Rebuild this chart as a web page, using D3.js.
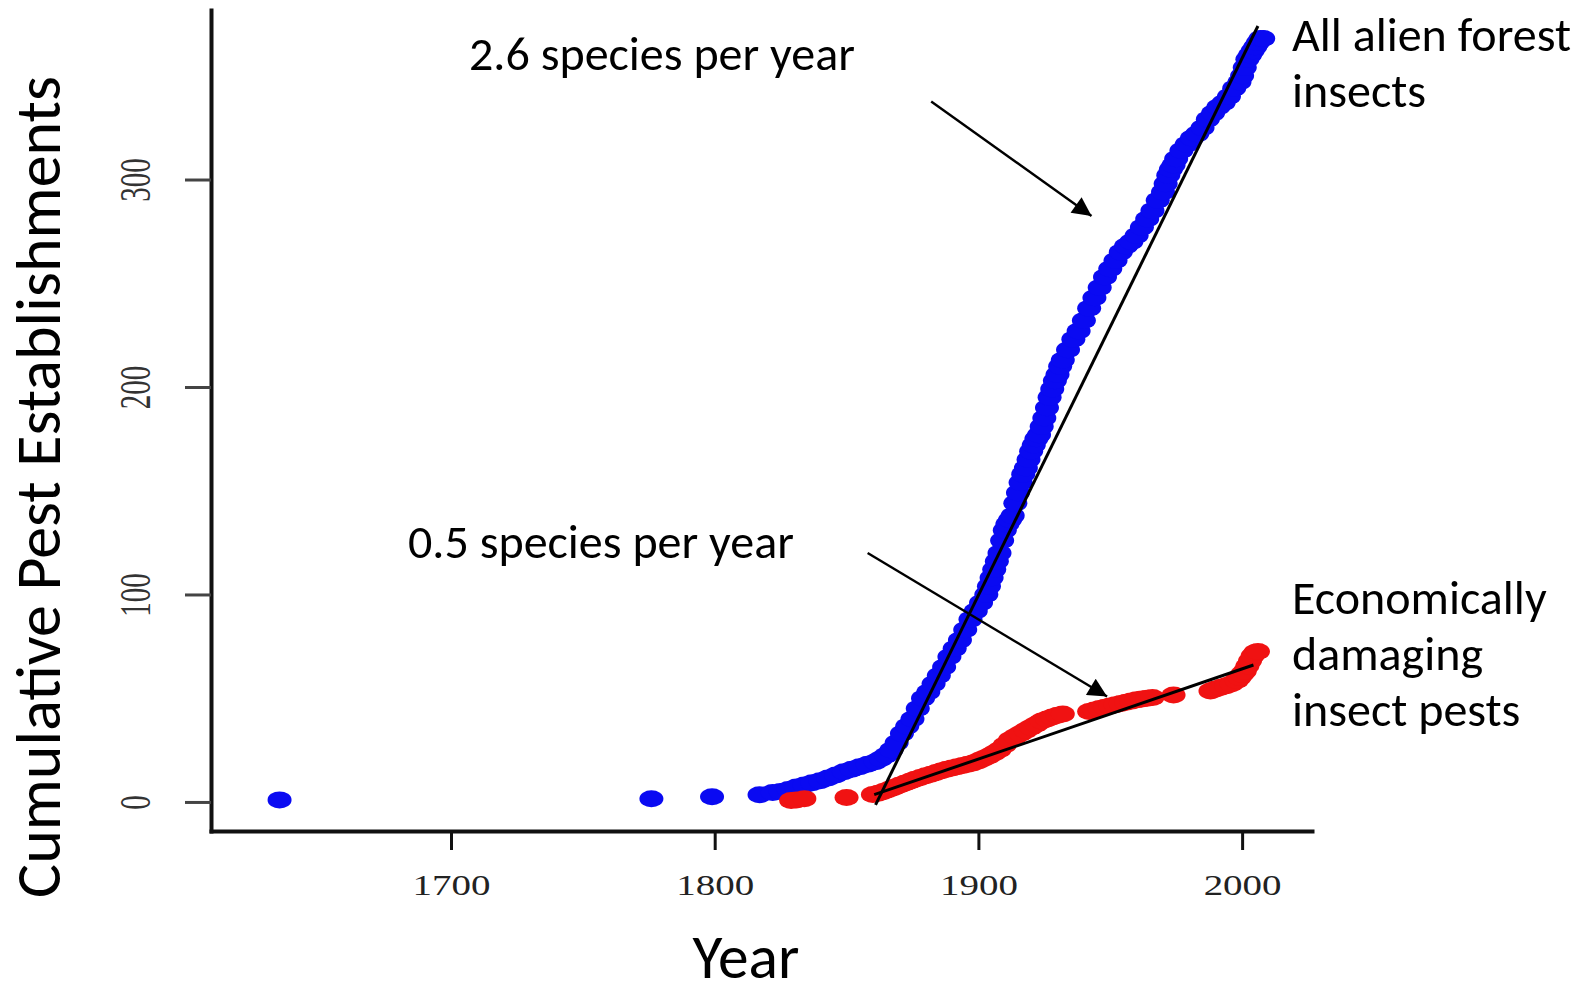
<!DOCTYPE html>
<html>
<head>
<meta charset="utf-8">
<script src="https://cdn.jsdelivr.net/npm/d3@7"></script>
<style>
  html, body { margin: 0; padding: 0; background: #fff; }
  svg { display: block; }
</style>
</head>
<body>
<svg id="chart"></svg>
<script>
// cumulative establishments, [year, count]
const allInsects = [
  [1635, 1], [1776, 1.5], [1799, 2.5], [1817, 3.5], [1822, 4.6], [1825, 5],
  [1828, 6], [1831, 7.2], [1834, 8.2], [1837, 9.2], [1840, 10.2], [1843, 11.5], [1846, 13],
  [1849, 14.6], [1852, 15.8], [1855, 17], [1858, 18.2], [1861, 19.4], [1863, 20.8], [1865, 22.5],
  [1867, 25], [1869, 28.5], [1871, 33], [1873, 36.5], [1875, 40], [1877, 45], [1879, 50],
  [1881, 53], [1883, 57], [1885, 61], [1887, 65], [1889, 70], [1891, 74], [1893, 78],
  [1895, 83], [1897, 88], [1899, 92], [1901, 96], [1903, 100], [1904, 104], [1905, 108],
  [1906, 112], [1907, 116], [1908, 120], [1909, 126], [1910, 131], [1911, 134], [1912, 136],
  [1913, 138], [1914, 144], [1915, 149], [1916, 154], [1917, 158], [1918, 161], [1919, 165],
  [1920, 169], [1921, 172], [1922, 175], [1923, 177], [1924, 181], [1925, 185], [1926, 190],
  [1927, 195], [1928, 199], [1929, 203], [1930, 206], [1931, 210], [1932, 213], [1934, 218],
  [1936, 223], [1938, 227], [1940, 232], [1942, 238], [1944, 243], [1946, 248], [1948, 253],
  [1950, 257], [1952, 261], [1954, 265], [1956, 268], [1958, 270], [1960, 273], [1962, 277],
  [1964, 281], [1966, 285], [1968, 290], [1970, 294], [1971, 298], [1972, 302], [1973, 305],
  [1974, 307], [1975, 310], [1977, 314], [1979, 317], [1981, 320], [1983, 322], [1985, 325],
  [1987, 329], [1989, 332], [1991, 335], [1993, 337], [1995, 340], [1997, 344], [1999, 347],
  [2000, 350], [2001, 354], [2002, 358], [2003, 360], [2004, 362], [2005, 364], [2006, 366],
  [2007, 368], [2008, 368]
];

const damagingPests = [
  [1829, 0.7], [1831, 1], [1834, 1.6], [1850, 2.2], [1860, 3.6], [1862, 4.2], [1864, 5],
  [1866, 6], [1868, 7], [1870, 8], [1872, 9], [1874, 10], [1876, 11], [1878, 11.8],
  [1880, 12.6], [1882, 13.4], [1884, 14.2], [1886, 15], [1888, 15.8], [1890, 16.4], [1892, 17],
  [1894, 17.6], [1896, 18.2], [1898, 18.8], [1900, 19.8], [1902, 21], [1904, 22.2], [1906, 23.6],
  [1908, 25.2], [1910, 27.5], [1912, 30], [1914, 31.5], [1916, 33], [1918, 34.5], [1920, 36],
  [1922, 37.5], [1924, 39], [1926, 40], [1928, 41], [1930, 41.8], [1932, 42.4], [1942, 43.6],
  [1944, 44.3], [1946, 45], [1948, 45.6], [1950, 46.2], [1952, 46.8], [1954, 47.4], [1956, 48],
  [1958, 48.6], [1960, 49.2], [1962, 49.6], [1964, 50], [1966, 50.3], [1974, 51.6], [1988, 53.5],
  [1990, 54.5], [1992, 55.3], [1994, 56], [1996, 57], [1998, 58.5], [1999, 60], [2000, 61.5],
  [2001, 63], [2002, 65.5], [2003, 68], [2004, 70.5], [2005, 72], [2006, 72.5]
];

// fitted trend lines, [year, count] at each end
const fitAll = [[1861, -1.4], [2006, 374]];
const fitDamaging = [[1860.5, 3.5], [2004.3, 66]];

const xTicks = [1700, 1800, 1900, 2000];
const yTicks = [0, 100, 200, 300];

const rateLabels = ["2.6 species per year", "0.5 species per year"];
const seriesLabels = [["All alien forest", "insects"], ["Economically", "damaging", "insect pests"]];
const xTitle = "Year";
const yTitle = "Cumulative Pest Establishments";

const W = 1591, H = 993;
const sans = "Calibri, Carlito, 'Open Sans', sans-serif";
const serif = "'Liberation Serif', 'Times New Roman', serif";

const svg = d3.select("#chart")
  .attr("width", W)
  .attr("height", H)
  .attr("viewBox", [0, 0, W, H]);

const x = d3.scaleLinear().domain([1609, 2026.5]).range([211, 1312]);
const y = d3.scaleLinear().domain([-14, 381.7]).range([831, 10]);

// x axis
const gx = svg.append("g")
  .attr("transform", `translate(0,${y.range()[0]})`)
  .call(d3.axisBottom(x).tickValues(xTicks).tickSize(19).tickSizeOuter(0).tickFormat(d3.format("d")));
gx.select(".domain").attr("stroke", "#111").attr("stroke-width", 4).attr("stroke-linecap", "square");
gx.selectAll(".tick line").attr("stroke", "#111").attr("stroke-width", 3);
gx.selectAll(".tick text")
  .attr("font-family", serif)
  .attr("font-size", 30)
  .attr("fill", "#222")
  .attr("y", 64)
  .attr("dy", 0)
  .attr("transform", "scale(1.3,1)");

// y axis
const gy = svg.append("g")
  .attr("transform", `translate(${x.range()[0]},0)`)
  .call(d3.axisLeft(y).tickValues(yTicks).tickSize(26).tickSizeOuter(0));
gy.select(".domain").attr("stroke", "#111").attr("stroke-width", 4).attr("stroke-linecap", "square");
gy.selectAll(".tick line").attr("stroke", "#444").attr("stroke-width", 3);
gy.selectAll(".tick text")
  .attr("font-family", serif)
  .attr("font-size", 29)
  .attr("fill", "#333")
  .attr("x", 0)
  .attr("dy", 0)
  .attr("text-anchor", "middle")
  .attr("transform", "translate(-61,0) rotate(-90) scale(1,1.5)");

// points
svg.append("g")
  .selectAll("ellipse")
  .data(allInsects)
  .join("ellipse")
  .attr("cx", d => x(d[0]))
  .attr("cy", d => y(d[1]))
  .attr("rx", 12)
  .attr("ry", 8.5)
  .attr("fill", "#0a0af2");

svg.append("g")
  .selectAll("ellipse")
  .data(damagingPests)
  .join("ellipse")
  .attr("cx", d => x(d[0]))
  .attr("cy", d => y(d[1]))
  .attr("rx", 12)
  .attr("ry", 8.5)
  .attr("fill", "#f01212");

// trend lines
const line = d3.line().x(d => x(d[0])).y(d => y(d[1]));
[fitAll, fitDamaging].forEach(f => {
  svg.append("path")
    .datum(f)
    .attr("fill", "none")
    .attr("stroke", "#000")
    .attr("stroke-width", 3)
    .attr("d", line);
});

// arrows pointing at the trend lines
svg.append("defs").append("marker")
  .attr("id", "head")
  .attr("viewBox", "0 0 10 10")
  .attr("refX", 10)
  .attr("refY", 5)
  .attr("markerWidth", 25)
  .attr("markerHeight", 19)
  .attr("markerUnits", "userSpaceOnUse")
  .attr("orient", "auto")
  .append("path")
  .attr("d", "M0,0L10,5L0,10z")
  .attr("fill", "#000");

const arrows = [
  {from: [1882.1, 337.6], to: [1942.9, 282.4]},
  {from: [1858, 120], to: [1948.8, 50.8]}
];
svg.append("g")
  .selectAll("line")
  .data(arrows)
  .join("line")
  .attr("x1", d => x(d.from[0]))
  .attr("y1", d => y(d.from[1]))
  .attr("x2", d => x(d.to[0]))
  .attr("y2", d => y(d.to[1]))
  .attr("stroke", "#000")
  .attr("stroke-width", 2.4)
  .attr("marker-end", "url(#head)");

// text sizes fitted to the widths measured on the reference
function fitSize(str, target) {
  const t = svg.append("text").attr("font-family", sans).attr("font-size", 100).text(str);
  const w = t.node().getComputedTextLength();
  t.remove();
  return 100 * target / w;
}
const noteSize = fitSize(rateLabels[0], 386);
const titleSize = fitSize(yTitle, 822);

const notePos = [[469, 70], [408, 558]];
rateLabels.forEach((s, i) => {
  svg.append("text")
    .attr("x", notePos[i][0])
    .attr("y", notePos[i][1])
    .attr("font-family", sans)
    .attr("font-size", noteSize)
    .attr("fill", "#000")
    .text(s);
});

const seriesPos = [[1292, 51], [1292, 614]];
seriesLabels.forEach((lines, i) => {
  const t = svg.append("text")
    .attr("font-family", sans)
    .attr("font-size", noteSize)
    .attr("fill", "#000");
  lines.forEach((s, j) => {
    t.append("tspan")
      .attr("x", seriesPos[i][0])
      .attr("y", seriesPos[i][1] + j * 56)
      .text(s);
  });
});

svg.append("text")
  .attr("x", 746)
  .attr("y", 978)
  .attr("text-anchor", "middle")
  .attr("font-family", sans)
  .attr("font-size", titleSize * 0.96)
  .attr("fill", "#000")
  .text(xTitle);

svg.append("text")
  .attr("transform", "translate(60,487) rotate(-90)")
  .attr("text-anchor", "middle")
  .attr("font-family", sans)
  .attr("font-size", titleSize)
  .attr("fill", "#000")
  .text(yTitle);
</script>
</body>
</html>
